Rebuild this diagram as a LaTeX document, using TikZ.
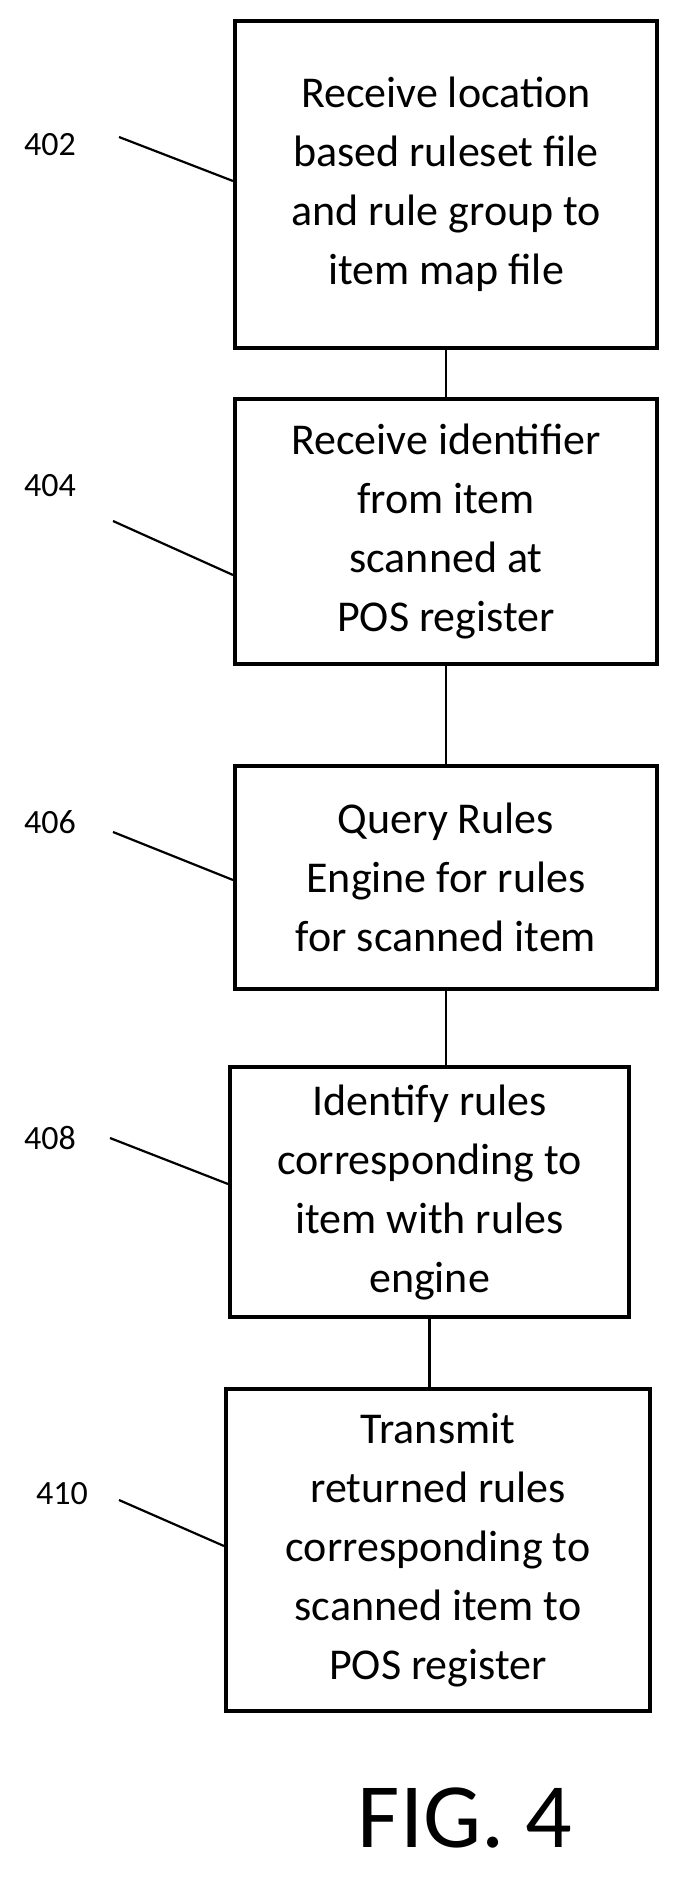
\documentclass[tikz,border=0pt]{standalone}
\usepackage{fontspec}
\setmainfont{Carlito}
\begin{document}
\begin{tikzpicture}[x=1pt,y=-1pt,
 box/.style={draw,line width=4pt,align=center,font=\fontsize{44}{59}\selectfont,inner sep=0pt},
 lbl/.style={font=\fontsize{34}{38}\selectfont},
 ln/.style={line width=2.2pt}]
\useasboundingbox (0,0) rectangle (688,1887);
\node[box,minimum width=422pt,minimum height=327pt] (b1) at (446,184.5) {Receive location\\based ruleset file\\and rule group to\\item map file};
\node[box,minimum width=422pt,minimum height=265pt] (b2) at (446,531.5) {Receive identifier\\from item\\scanned at\\POS register};
\node[box,minimum width=422pt,minimum height=223pt] (b3) at (446,877.5) {Query Rules\\Engine for rules\\for scanned item};
\node[box,minimum width=399pt,minimum height=250pt] (b4) at (429.5,1192) {Identify rules\\corresponding to\\item with rules\\engine};
\node[box,minimum width=424pt,minimum height=322pt] (b5) at (438,1550) {Transmit\\returned rules\\corresponding to\\scanned item to\\POS register};
\draw[ln] (b1.south) -- (b2.north);
\draw[ln] (b2.south) -- (b3.north);
\draw[ln] (b3.south) -- (446,1067);
\draw[ln] (429.5,1317) -- (429.5,1389);
\node[lbl] (l1) at (50,145) {402}; \coordinate (c1) at (119,137); \draw[ln] (c1) -- (233,181);
\node[lbl] (l2) at (50,486) {404}; \coordinate (c2) at (113,521); \draw[ln] (c2) -- (233,575);
\node[lbl] (l3) at (50,822) {406}; \coordinate (c3) at (113,832); \draw[ln] (c3) -- (233,880);
\node[lbl] (l4) at (50,1138) {408}; \coordinate (c4) at (110,1138); \draw[ln] (c4) -- (228,1184);
\node[lbl] (l5) at (62,1494) {410}; \coordinate (c5) at (119,1500); \draw[ln] (c5) -- (224,1546);
\node[font=\fontsize{92}{96}\selectfont] (fig) at (465,1818) {FIG. 4};
\end{tikzpicture}
\end{document}
